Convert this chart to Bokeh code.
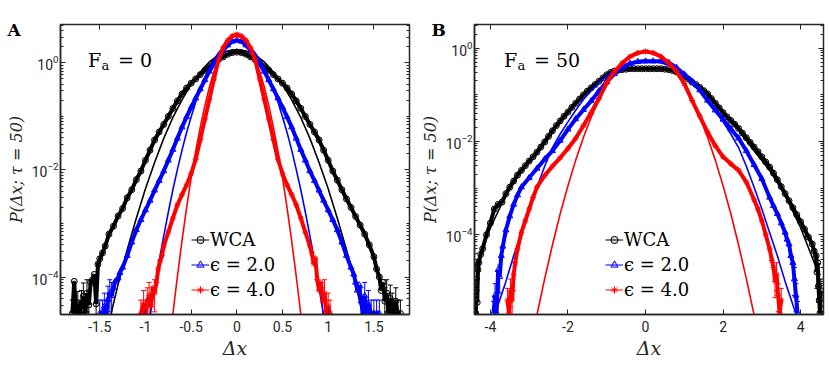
import numpy as np
from bokeh.plotting import figure
from bokeh.layouts import row
from bokeh.models import (FixedTicker, LinearAxis, LogAxis, Label, Legend, LegendItem,
                          Whisker, ColumnDataSource, TeeHead, Range1d)
from bokeh.embed import file_html
from bokeh.resources import INLINE

# ---------------- Panel A (F_a = 0) : values as log10 P ----------------
wca_a_x = [-1.80, -1.78, -1.76, -1.74, -1.72, -1.70, -1.68, -1.66, -1.64, -1.62, -1.60, -1.58, -1.56, -1.54,
           -1.52, -1.50, -1.47, -1.44,
           -1.40, -1.35, -1.30, -1.25, -1.20, -1.15, -1.10, -1.05, -1.00, -0.95, -0.90, -0.85, -0.80, -0.75,
           -0.70, -0.65, -0.60, -0.55, -0.50, -0.45, -0.40, -0.35, -0.30, -0.25, -0.20, -0.15, -0.10, -0.05,
           0.00, 0.05, 0.10, 0.15, 0.20, 0.25, 0.30, 0.35, 0.40, 0.45, 0.50, 0.55, 0.60, 0.65, 0.70, 0.75,
           0.80, 0.85, 0.90, 0.95, 1.00, 1.05, 1.10, 1.15, 1.20, 1.25, 1.30, 1.35, 1.40,
           1.45, 1.50, 1.53, 1.56, 1.58, 1.60, 1.62, 1.64, 1.66, 1.68, 1.70, 1.72, 1.74, 1.76, 1.79]
wca_a_log = [-4.68, -4.08, -4.68, -4.52, -4.68, -4.50, -4.36, -4.68, -4.30, -4.52, -4.10, -4.05, -3.95, -4.50,
             -3.76, -3.66, -3.55, -3.42,
             -3.20, -3.05, -2.86, -2.72, -2.52, -2.37, -2.18, -2.02, -1.82, -1.63, -1.44, -1.29, -1.15, -1.00,
             -0.85, -0.71, -0.58, -0.47, -0.38, -0.30, -0.22, -0.14, -0.07, 0.00, 0.06, 0.11, 0.16, 0.19,
             0.20, 0.19, 0.16, 0.11, 0.06, 0.00, -0.07, -0.14, -0.22, -0.30, -0.38, -0.47, -0.58, -0.71, -0.85, -1.00,
             -1.15, -1.29, -1.44, -1.63, -1.82, -2.02, -2.19, -2.37, -2.54, -2.70, -2.87, -3.03, -3.20,
             -3.40, -3.62, -3.85, -4.00, -4.25, -4.10, -4.45, -4.30, -4.68, -4.40, -4.55, -4.68, -4.45, -4.68, -4.68]

eps2_a_x = [-1.50, -1.47, -1.45, -1.43, -1.41, -1.39, -1.37, -1.35, -1.33, -1.30, -1.28,
            -1.25, -1.20, -1.15, -1.10, -1.05, -1.00, -0.95, -0.90, -0.85, -0.80, -0.75, -0.70, -0.65,
            -0.60, -0.55, -0.50, -0.45, -0.40, -0.35, -0.30, -0.25, -0.20, -0.15, -0.10, -0.05,
            0.00, 0.05, 0.10, 0.15, 0.20, 0.25, 0.30, 0.35, 0.40, 0.45, 0.50, 0.55, 0.60, 0.65,
            0.70, 0.75, 0.80, 0.85, 0.90, 0.95, 1.00, 1.05, 1.10, 1.15, 1.20, 1.25,
            1.28, 1.30, 1.32, 1.34, 1.36, 1.38, 1.40, 1.42, 1.44, 1.47, 1.50, 1.53, 1.56]
eps2_a_log = [-4.68, -4.68, -4.55, -4.68, -4.42, -4.30, -4.35, -4.20, -4.08, -4.02, -3.92,
              -3.82, -3.60, -3.35, -3.12, -2.93, -2.75, -2.57, -2.38, -2.20, -2.02, -1.82, -1.62, -1.41,
              -1.20, -1.01, -0.83, -0.66, -0.49, -0.32, -0.16, -0.02, 0.10, 0.23, 0.33, 0.40,
              0.42, 0.40, 0.33, 0.23, 0.10, -0.02, -0.16, -0.32, -0.49, -0.66, -0.83, -1.01, -1.20, -1.41,
              -1.62, -1.82, -2.02, -2.20, -2.38, -2.57, -2.75, -2.93, -3.12, -3.35, -3.60, -3.82,
              -3.95, -4.10, -4.25, -4.15, -4.45, -4.68, -4.35, -4.68, -4.50, -4.68, -4.68, -4.68, -4.68]

eps4_a_x = [-1.05, -1.02, -1.00, -0.98, -0.96, -0.94, -0.92, -0.90, -0.88, -0.86, -0.84, -0.82,
            -0.80, -0.75, -0.70, -0.65, -0.60, -0.55, -0.50, -0.45, -0.40, -0.35, -0.30, -0.25,
            -0.20, -0.15, -0.10, -0.05, 0.00, 0.05, 0.10, 0.15, 0.20, 0.25, 0.30, 0.35, 0.40,
            0.45, 0.50, 0.55, 0.60, 0.65, 0.70, 0.75, 0.80,
            0.82, 0.84, 0.86, 0.88, 0.90, 0.92, 0.94, 0.96, 0.98, 1.00, 1.02]
eps4_a_log = [-4.68, -4.50, -4.68, -4.45, -4.35, -4.55, -4.20, -4.30, -4.10, -3.85, -3.70, -3.60,
              -3.42, -3.16, -2.90, -2.65, -2.46, -2.28, -2.07, -1.80, -1.43, -1.05, -0.68, -0.30,
              0.06, 0.28, 0.42, 0.50, 0.53, 0.50, 0.42, 0.28, 0.06, -0.30, -0.68, -1.05, -1.43,
              -1.80, -2.07, -2.28, -2.46, -2.65, -2.90, -3.16, -3.42,
              -3.55, -3.75, -3.65, -4.05, -4.25, -4.10, -4.45, -4.30, -4.68, -4.55, -4.68]

wca_a_fit_x = [-1.4, -1.3, -1.2, -1.1, -1.0, -0.9, -0.8, -0.7, -0.6, -0.5, -0.4, -0.3, -0.2, -0.1, 0.0,
               0.1, 0.2, 0.3, 0.4, 0.5, 0.6, 0.7, 0.8, 0.9, 1.0, 1.1, 1.2, 1.3, 1.4]
wca_a_fit_log = [-4.85, -4.14, -3.49, -2.90, -2.35, -1.86, -1.41, -1.02, -0.69, -0.40, -0.17, 0.02, 0.15, 0.22, 0.25,
                 0.22, 0.15, 0.02, -0.17, -0.40, -0.69, -1.02, -1.41, -1.86, -2.35, -2.90, -3.49, -4.14, -4.85]

eps2_a_fit_x = [-1.0, -0.95, -0.9, -0.85, -0.8, -0.75, -0.7, -0.65, -0.6, -0.55, -0.5, -0.45, -0.4, -0.35,
                -0.3, -0.25, -0.2, -0.15, -0.1, -0.05, 0.0, 0.05, 0.1, 0.15, 0.2, 0.25, 0.3, 0.35, 0.4,
                0.45, 0.5, 0.55, 0.6, 0.65, 0.7, 0.75, 0.8, 0.85, 0.9, 0.95, 1.0]
eps2_a_fit_log = [-5.28, -4.72, -4.20, -3.70, -3.23, -2.79, -2.37, -1.99, -1.63, -1.30, -1.01, -0.73, -0.49, -0.28,
                  -0.09, 0.06, 0.19, 0.29, 0.36, 0.41, 0.42, 0.41, 0.36, 0.29, 0.19, 0.06, -0.09, -0.28, -0.49,
                  -0.73, -1.01, -1.30, -1.63, -1.99, -2.37, -2.79, -3.23, -3.70, -4.20, -4.72, -5.28]

eps4_a_fit_x = [-0.75, -0.7, -0.65, -0.6, -0.55, -0.5, -0.45, -0.4, -0.35, -0.3, -0.25, -0.2, -0.15, -0.1,
                -0.05, 0.0, 0.05, 0.1, 0.15, 0.2, 0.25, 0.3, 0.35, 0.4, 0.45, 0.5, 0.55, 0.6, 0.65, 0.7, 0.75]
eps4_a_fit_log = [-5.46, -4.69, -3.98, -3.32, -2.71, -2.15, -1.65, -1.20, -0.80, -0.45, -0.16, 0.08, 0.26, 0.39,
                  0.47, 0.50, 0.47, 0.39, 0.26, 0.08, -0.16, -0.45, -0.80, -1.20, -1.65, -2.15, -2.71, -3.32,
                  -3.98, -4.69, -5.46]

# ---------------- Panel B (F_a = 50) : values as log10 P ----------------
wca_b_x = [-4.42, -4.40, -4.38, -4.36, -4.34, -4.32, -4.30, -4.25, -4.2, -4.1, -4.0, -3.9, -3.8, -3.7, -3.6,
           -3.5, -3.4, -3.3, -3.2, -3.1, -3.0, -2.9, -2.8, -2.7, -2.6, -2.5, -2.4, -2.3, -2.2, -2.1, -2.0,
           -1.9, -1.8, -1.7, -1.6, -1.5, -1.4, -1.3, -1.2, -1.1, -1.0, -0.9, -0.8, -0.7, -0.6, -0.5, -0.4,
           -0.3, -0.2, -0.1, 0.0, 0.1, 0.2, 0.3, 0.4, 0.5, 0.6, 0.7, 0.8, 0.9, 1.0, 1.1, 1.2, 1.3, 1.4,
           1.5, 1.6, 1.7, 1.8, 1.9, 2.0, 2.1, 2.2, 2.3, 2.4, 2.5, 2.6, 2.7, 2.8, 2.9, 3.0, 3.1, 3.2, 3.3,
           3.4, 3.5, 3.6, 3.7, 3.8, 3.9, 4.0, 4.1, 4.2, 4.3, 4.35, 4.4, 4.42, 4.44, 4.46, 4.48, 4.50, 4.52]
wca_b_log = [-5.68, -5.30, -5.68, -4.95, -5.45, -4.75, -4.60, -4.42, -4.30, -4.00, -3.75, -3.45, -3.35, -3.30, -3.12,
             -2.98, -2.85, -2.72, -2.62, -2.52, -2.42, -2.33, -2.23, -2.12, -2.01, -1.89, -1.77, -1.66, -1.56, -1.46, -1.37,
             -1.27, -1.18, -1.09, -1.00, -0.92, -0.85, -0.78, -0.71, -0.64, -0.57, -0.52, -0.49, -0.47, -0.46, -0.45, -0.44,
             -0.44, -0.44, -0.44, -0.44, -0.44, -0.44, -0.44, -0.44, -0.45, -0.46, -0.48, -0.51, -0.55, -0.60, -0.66, -0.73, -0.78, -0.84,
             -0.91, -0.98, -1.08, -1.18, -1.28, -1.38, -1.47, -1.55, -1.63, -1.72, -1.82, -1.92, -2.02, -2.12, -2.22, -2.33, -2.44, -2.55, -2.68,
             -2.82, -2.97, -3.12, -3.27, -3.42, -3.57, -3.72, -3.88, -4.05, -4.20, -4.35, -4.45, -4.80, -4.60, -5.10, -5.40, -5.68, -5.20]

eps2_b_x = [-3.92, -3.88, -3.84, -3.80, -3.76, -3.72, -3.68, -3.6, -3.5, -3.4, -3.3, -3.2, -3.0, -2.8, -2.6,
            -2.4, -2.2, -2.0, -1.8, -1.6, -1.4, -1.2, -1.0, -0.8, -0.6, -0.4, -0.2, 0.0, 0.2, 0.4, 0.6, 0.8,
            1.0, 1.2, 1.4, 1.6, 1.8, 2.0, 2.2, 2.4, 2.6, 2.8, 3.0, 3.2, 3.3, 3.4, 3.5, 3.6, 3.65, 3.7,
            3.75, 3.8, 3.84, 3.88, 3.92]
eps2_b_log = [-5.68, -5.30, -5.68, -4.75, -4.90, -4.45, -4.25, -3.90, -3.60, -3.35, -3.15, -2.98, -2.78, -2.58, -2.38,
              -2.20, -1.98, -1.74, -1.52, -1.32, -1.13, -0.92, -0.72, -0.55, -0.42, -0.33, -0.29, -0.28, -0.28, -0.28, -0.31, -0.42,
              -0.56, -0.71, -0.90, -1.12, -1.33, -1.53, -1.73, -1.93, -2.20, -2.50, -2.80, -3.20, -3.38, -3.55, -3.75, -3.95, -4.10, -4.20,
              -4.45, -4.60, -4.95, -5.30, -5.68]

eps4_b_x = [-3.56, -3.52, -3.48, -3.44, -3.40, -3.36, -3.3, -3.2, -3.1, -3.0, -2.9, -2.8, -2.6, -2.4, -2.2,
            -2.0, -1.8, -1.6, -1.4, -1.2, -1.0, -0.8, -0.6, -0.4, -0.2, 0.0, 0.2, 0.4, 0.6, 0.8, 1.0,
            1.2, 1.4, 1.6, 1.8, 2.0, 2.2, 2.4, 2.6, 2.8, 2.9, 3.0, 3.1, 3.2, 3.26, 3.3, 3.34, 3.38, 3.42, 3.46, 3.5]
eps4_b_log = [-5.40, -5.68, -5.20, -5.40, -4.85, -4.60, -4.30, -3.95, -3.70, -3.45, -3.20, -2.98, -2.73, -2.53, -2.35,
              -2.15, -1.93, -1.66, -1.38, -1.08, -0.74, -0.50, -0.32, -0.18, -0.10, -0.07, -0.10, -0.18, -0.32, -0.50, -0.76,
              -1.12, -1.46, -1.80, -2.09, -2.33, -2.48, -2.62, -2.87, -3.25, -3.45, -3.70, -4.00, -4.30, -4.55, -4.70, -5.00, -4.85,
              -5.30, -5.68, -5.40]

wca_b_fit_x = [-4.4, -4.0, -3.6, -3.2, -2.8, -2.4, -2.0, -1.6, -1.2, -0.8, -0.4, 0.0,
               0.4, 0.8, 1.2, 1.6, 2.0, 2.4, 2.8, 3.2, 3.6, 4.0, 4.4]
wca_b_fit_log = [-4.70, -3.85, -3.15, -2.62, -2.20, -1.76, -1.37, -1.00, -0.71, -0.50, -0.44, -0.43,
                 -0.44, -0.50, -0.71, -1.00, -1.37, -1.76, -2.20, -2.62, -3.15, -3.85, -4.70]

eps2_b_fit_x = [-3.9, -3.8, -3.6, -3.4, -3.2, -3.0, -2.8, -2.6, -2.4, -2.2, -2.0, -1.8, -1.6, -1.4, -1.2, -1.0,
                -0.8, -0.6, -0.4, -0.2, 0.0, 0.2, 0.4, 0.6, 0.8, 1.0, 1.2, 1.4, 1.6, 1.8, 2.0, 2.2, 2.4,
                2.6, 2.8, 3.0, 3.2, 3.4, 3.6, 3.8, 3.9]
eps2_b_fit_log = [-5.75, -5.50, -5.00, -4.45, -3.95, -3.45, -2.98, -2.53, -2.13, -1.84, -1.58, -1.33, -1.10, -0.91,
                  -0.74, -0.59, -0.47, -0.37, -0.31, -0.27, -0.26, -0.27, -0.31, -0.37, -0.47, -0.59, -0.74, -0.91,
                  -1.10, -1.33, -1.58, -1.84, -2.13, -2.53, -2.98, -3.45, -3.95, -4.45, -5.00, -5.50, -5.75]

eps4_b_fit_x = [-2.9, -2.8, -2.6, -2.4, -2.2, -2.0, -1.8, -1.6, -1.4, -1.2, -1.0, -0.8, -0.6, -0.4, -0.2, 0.0,
                0.2, 0.4, 0.6, 0.8, 1.0, 1.2, 1.4, 1.6, 1.8, 2.0, 2.2, 2.4, 2.6, 2.8, 2.9]
eps4_b_fit_log = [-6.13, -5.72, -4.94, -4.22, -3.55, -2.95, -2.40, -1.91, -1.48, -1.11, -0.79, -0.53, -0.33, -0.19,
                  -0.10, -0.07, -0.10, -0.19, -0.33, -0.53, -0.79, -1.11, -1.48, -1.91, -2.40, -2.95, -3.55, -4.22,
                  -4.94, -5.72, -6.13]

# tick labels / texts
a_xticks = [-1.5, -1.0, -0.5, 0.0, 0.5, 1.0, 1.5]
a_xlabels = ["-1.5", "-1", "-0.5", "0", "0.5", "1", "1.5"]
b_xticks = [-4.0, -2.0, 0.0, 2.0, 4.0]
b_xlabels = ["-4", "-2", "0", "2", "4"]
y_major = [1e-4, 1e-2, 1.0]
legend_labels = ["WCA", "\u03f5 = 2.0", "\u03f5 = 4.0"]

AXC = "#262626"
SERIF = "DejaVu Serif"
SANS = "Roboto"
COLORS = ["#000000", "#0000ff", "#ff0000"]
MARKERS = ["circle", "triangle", "asterisk"]

minor = [k * 10.0 ** n for n in range(-7, 1) for k in range(1, 10)]


def panel(xr, yr, xticks, xlabels, series, fits, letter, fa_val, border_left, border_right, err_thr,
          letter_dx, f_dx):
    p = figure(width=border_left + 349 + border_right, height=362,
               x_range=Range1d(*xr), y_range=Range1d(*yr), y_axis_type="log",
               output_backend="svg", toolbar_location=None,
               min_border_left=border_left, min_border_right=border_right,
               min_border_top=24, min_border_bottom=48)
    p.background_fill_color = "white"
    p.border_fill_color = "white"
    p.xgrid.visible = False
    p.ygrid.visible = False
    p.outline_line_color = AXC
    p.outline_line_width = 1.5

    p.xaxis.ticker = FixedTicker(ticks=xticks)
    p.xaxis.major_label_overrides = {t: l for t, l in zip(xticks, xlabels)}
    p.yaxis.ticker = FixedTicker(ticks=y_major, minor_ticks=minor)
    for ax in (p.xaxis[0], p.yaxis[0]):
        ax.major_tick_in = 5
        ax.major_tick_out = 0
        ax.minor_tick_in = 3
        ax.minor_tick_out = 0
        ax.axis_line_color = AXC
        ax.axis_line_width = 1.5
        ax.major_tick_line_color = AXC
        ax.minor_tick_line_color = AXC
        ax.major_label_text_font = SANS
        ax.major_label_text_font_size = "14px"
        ax.major_label_text_color = AXC
        ax.axis_label_text_font = SERIF
        ax.axis_label_text_font_style = "italic"
        ax.axis_label_text_color = AXC
    p.xaxis.axis_label_text_font_size = "19px"
    p.yaxis.axis_label_text_font_size = "16px"
    p.xaxis.minor_tick_in = 0
    p.xaxis.major_label_standoff = 6
    p.yaxis.major_label_standoff = 2
    p.xaxis.axis_label = "\u0394x"
    p.xaxis.axis_label_standoff = 2
    p.yaxis.axis_label = "P(\u0394x; \u03c4 = 50)"
    p.yaxis.axis_label_standoff = 3

    top = LinearAxis(ticker=FixedTicker(ticks=xticks), major_label_text_font_size="1px",
                     major_label_text_alpha=0, major_label_standoff=0,
                     major_tick_in=5, major_tick_out=0, minor_tick_in=0, minor_tick_out=0,
                     major_tick_line_color=AXC, axis_line_color=None)
    p.add_layout(top, "above")
    right = LogAxis(ticker=FixedTicker(ticks=y_major, minor_ticks=minor), major_label_text_font_size="1px",
                    major_label_text_alpha=0, major_label_standoff=0,
                    major_tick_in=5, major_tick_out=0, minor_tick_in=3, minor_tick_out=0,
                    major_tick_line_color=AXC, minor_tick_line_color=AXC, axis_line_color=None)
    p.add_layout(right, "right")

    items = []
    for (sx, slog), (fx, flog), col, mk, lab in zip(series, fits, COLORS, MARKERS, legend_labels):
        yv = 10.0 ** np.array(slog)
        src = ColumnDataSource(dict(x=sx, y=yv))
        p.line("x", "y", source=src, line_color=col, line_width=4.0)
        ln = p.line("x", "y", source=src, line_color=col, line_width=1.0)
        sc = p.scatter("x", "y", source=src, marker=mk, size=6, line_color=col, line_width=1.0,
                       fill_color=col, fill_alpha=0.15)
        sel = [i for i, v in enumerate(slog) if v <= err_thr]
        if sel:
            esrc = ColumnDataSource(dict(
                x=[sx[i] for i in sel],
                lo=[10.0 ** (slog[i] - 0.35) for i in sel],
                hi=[10.0 ** (slog[i] + 0.25) for i in sel]))
            p.add_layout(Whisker(base="x", lower="lo", upper="hi", source=esrc, dimension="height",
                                 line_color=col, line_width=1,
                                 upper_head=TeeHead(size=5, line_color=col, line_width=1),
                                 lower_head=TeeHead(size=5, line_color=col, line_width=1)))
        p.line(fx, 10.0 ** np.array(flog), line_color=col, line_width=1.6)
        items.append(LegendItem(label=lab, renderers=[ln, sc]))

    leg = Legend(items=items, location=(131, 14), padding=0, margin=0, spacing=4,
                 label_height=21, glyph_height=21, glyph_width=18, label_standoff=1,
                 label_text_font=SERIF, label_text_font_size="18px", label_text_color="#000000",
                 background_fill_alpha=0, border_line_color=None)
    p.add_layout(leg)

    x0, ytop = xr[0], yr[1]
    p.add_layout(Label(x=x0, y=ytop, x_offset=letter_dx, y_offset=-15, text=letter,
                       text_font=SERIF, text_font_style="bold", text_font_size="17px",
                       text_color="#000000"), "above")
    p.add_layout(Label(x=x0, y=ytop, x_offset=f_dx, y_offset=-46, text="F",
                       text_font=SERIF, text_font_size="19px", text_color="#000000"))
    p.add_layout(Label(x=x0, y=ytop, x_offset=f_dx + 13.5, y_offset=-48.7, text="a",
                       text_font=SERIF, text_font_size="13px", text_color="#000000"))
    p.add_layout(Label(x=x0, y=ytop, x_offset=f_dx + 30, y_offset=-46, text="= " + fa_val,
                       text_font=SERIF, text_font_size="19px", text_color="#000000"))
    return p


pa = panel((-1.93, 1.89), (2.0e-5, 5.2), a_xticks, a_xlabels,
           [(wca_a_x, wca_a_log), (eps2_a_x, eps2_a_log), (eps4_a_x, eps4_a_log)],
           [(wca_a_fit_x, wca_a_fit_log), (eps2_a_fit_x, eps2_a_fit_log), (eps4_a_fit_x, eps4_a_fit_log)],
           "A", "0", 60, 6, -4.3, -53, 27.5)
pb = panel((-4.41, 4.59), (1.95e-6, 3.22), b_xticks, b_xlabels,
           [(wca_b_x, wca_b_log), (eps2_b_x, eps2_b_log), (eps4_b_x, eps4_b_log)],
           [(wca_b_fit_x, wca_b_fit_log), (eps2_b_fit_x, eps2_b_fit_log), (eps4_b_fit_x, eps4_b_fit_log)],
           "B", "50", 59, 6, -4.8, -43, 29.5)

layout = row(pa, pb)
open("out.html", "w").write(file_html(layout, INLINE))
